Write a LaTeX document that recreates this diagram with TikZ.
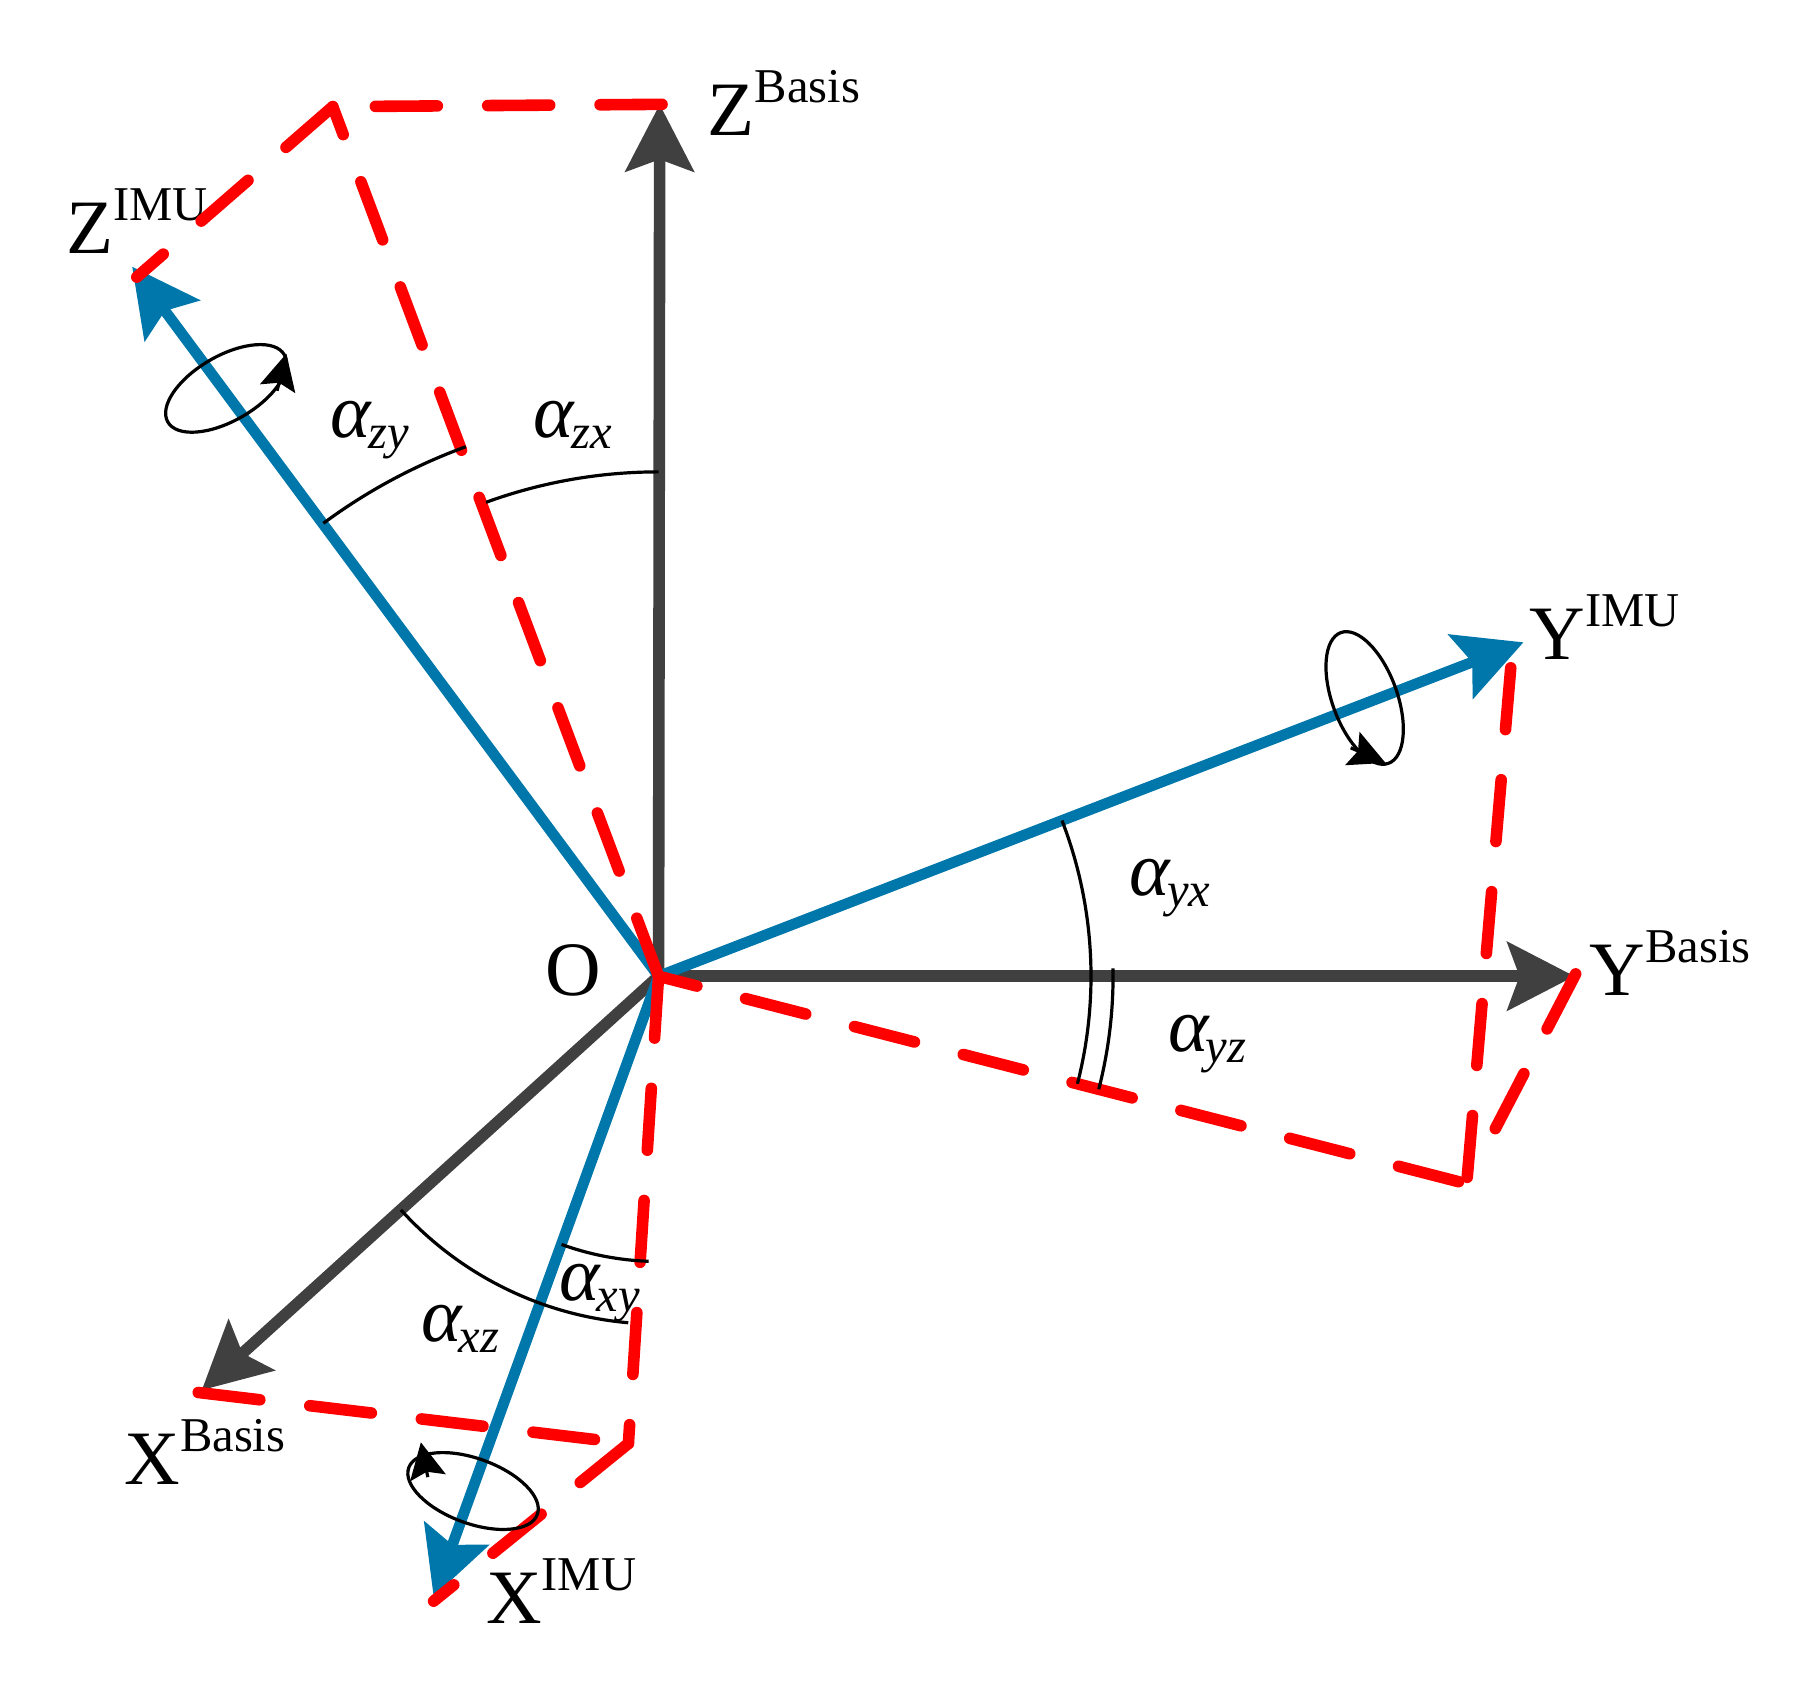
\documentclass[tikz,border=0pt]{standalone}
\usepackage{fontspec}
\setmainfont{Liberation Serif}
\usetikzlibrary{arrows.meta}
\usetikzlibrary{calc}

\definecolor{axisgray}{RGB}{64,64,64}
\definecolor{imublue}{RGB}{0,119,170}

% letter with a raised or a lowered index
\newcommand{\axlab}[2]{#1\raisebox{16.5pt}{\fontsize{24.3}{24}\selectfont #2}}
\newcommand{\anglab}[1]{{\itshape α\kern-1.5pt\raisebox{-5.5pt}{\fontsize{24.3}{24}\selectfont #1}}}

\tikzset{
    basisaxis/.style={axisgray, line width=5.8pt, -{Stealth[length=33.5pt,width=34pt,inset=6pt]}},
    imuaxis/.style={imublue, line width=5.4pt, -{Stealth[length=33.5pt,width=34pt,inset=6pt]}},
    projline/.style={red, line width=5.8pt, line cap=round, dash pattern=on 31pt off 25.2pt},
    anglearc/.style={black, line width=1.6pt},
    spinloop/.style={black, line width=1.6pt},
    spinhead/.style={black, line width=1.6pt, -{Stealth[length=18pt,width=18pt,inset=3pt]}},
    axlabel/.style={anchor=base west, inner sep=0pt, font=\fontsize{38.5}{44}\selectfont}
}

\begin{document}
\begin{tikzpicture}[x=0.58pt, y=0.58pt]

        \useasboundingbox (-568,-613) rectangle (1000,842);

        \coordinate (O) at (0,0);

        \coordinate (Zb) at (1,752);
        \coordinate (Yb) at (790,0);
        \coordinate (Xb) at (-394,-357);
        \coordinate (Zi) at (-454,612);
        \coordinate (Yi) at (746,288);
        \coordinate (Xi) at (-194,-535);

        % corners of the projections
        \coordinate (Zc) at (-281,750);
        \coordinate (Yc) at (697,-179);
        \coordinate (Xc) at (-26,-403);

        \draw[basisaxis] (O) -- (Zb);
        \draw[basisaxis] (O) -- (Yb);
        \draw[basisaxis] (O) -- (Xb);

        \draw[imuaxis] (O) -- (Zi);
        \draw[imuaxis] (O) -- (Yi);
        \draw[imuaxis] (O) -- (Xi);

        \node[axlabel] (labZb) at (42,725) {\axlab{Z}{Basis}};
        \node[axlabel] (labYb) at (803,-17) {\axlab{Y}{Basis}};
        \node[axlabel] (labXb) at (-461,-438) {\axlab{X}{Basis}};
        \node[axlabel] (labZi) at (-511,623) {\axlab{Z}{IMU}};
        \node[axlabel] (labYi) at (751,273) {\axlab{Y}{IMU}};
        \node[axlabel] (labXi) at (-149,-558) {\axlab{X}{IMU}};
        \node[axlabel] (labO) at (-98,-17) {O};

        \node[axlabel] (labzy) at (-283,465) {\anglab{zy}};
        \node[axlabel] (labzx) at (-108,465) {\anglab{zx}};
        \node[axlabel] (labyx) at (406,70) {\anglab{yx}};
        \node[axlabel] (labyz) at (439.5,-65) {\anglab{yz}};
        \node[axlabel] (labxz) at (-205,-315) {\anglab{xz}};
        \node[axlabel] (labxy) at (-86,-280) {\anglab{xy}};

        % dashed projections
        \draw[projline] (3,752) -- (Zc);
        \draw[projline] (Zc) -- (-450,603);
        \draw[projline] (O) -- (Zc);

        \draw[projline] (735,266) -- (Yc);
        \draw[projline] (791,2) -- ($(791,2)!0.8!(Yc)$);
        \draw[projline, dash phase=52pt] (Yc) -- (O);

        \draw[projline] (-397,-359) -- (Xc);
        \draw[projline] (O) -- (Xc);
        \draw[projline] (Xc) -- (-194,-539);

        \draw[anglearc] (110:435) arc[start angle=110, end angle=90, radius=435];
        \draw[anglearc] (126.5:486) arc[start angle=126.5, end angle=110, radius=486];
        \draw[anglearc] (21.1:373) arc[start angle=21.1, end angle=-14.4, radius=373];
        \draw[anglearc] (1:392) arc[start angle=1, end angle=-14.4, radius=392];
        \draw[anglearc] (222.2:300) arc[start angle=222.2, end angle=265, radius=300];
        \draw[anglearc] (250.1:246) arc[start angle=250.1, end angle=268, radius=246];

        % turning arrows round the IMU axes
        \draw[spinloop, rotate around={30:(-373,507)}] (-373,507) ellipse[x radius=58, y radius=28];
        \draw[spinhead] (-329,505) -- (-321,537);

        \draw[spinloop, rotate around={-70:(609,240)}] (609,240) ellipse[x radius=60, y radius=28];
        \draw[spinhead] (597,197) -- (627,184);

        \draw[spinloop, rotate around={-20:(-160,-444)}] (-160,-444) ellipse[x radius=59, y radius=28];
        \draw[spinhead] (-199,-432) -- (-205,-402);

    \end{tikzpicture}
\end{document}
